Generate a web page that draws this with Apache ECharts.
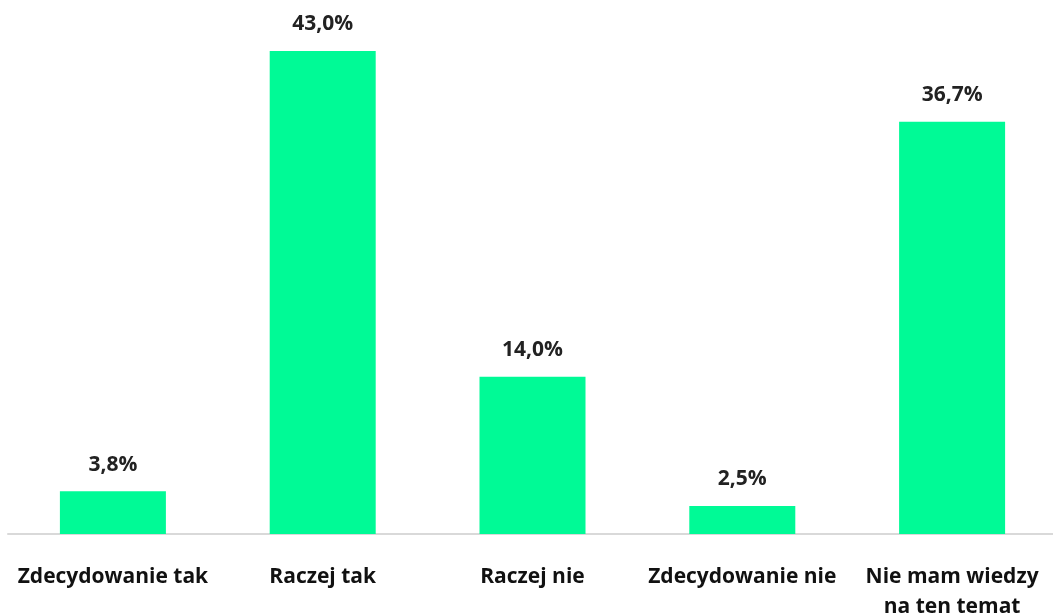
<!DOCTYPE html>
<html lang="pl">
<head>
    <meta charset="UTF-8">
    <title>Wykres</title>
    <script src="https://cdn.jsdelivr.net/npm/echarts@6/dist/echarts.min.js"></script>
    <style>
        html, body { margin: 0; padding: 0; background: #fff; }
        #chart1 { width: 1053px; height: 616px; }
    </style>
</head>
<body>
<div id="chart1"></div>
<script type="text/javascript">
    var categories = ['Zdecydowanie tak', 'Raczej tak', 'Raczej nie', 'Zdecydowanie nie', 'Nie mam wiedzy\nna ten temat'];
    var values = [3.8, 43.0, 14.0, 2.5, 36.7];

    var font = 'Open Sans';
    var myChart1 = echarts.init(document.getElementById('chart1'));
    myChart1.setOption({
        animation: false,
        grid: { left: 8, right: -4, top: 28.5, bottom: 82, outerBoundsMode: 'none', containLabel: false },
        xAxis: {
            type: 'category',
            data: categories,
            axisLine: { lineStyle: { color: '#d9d9d9', width: 2 } },
            axisTick: { show: false },
            axisLabel: {
                interval: 0,
                margin: 28,
                color: '#111',
                fontFamily: font,
                fontWeight: 'bold',
                fontSize: 21,
                lineHeight: 30
            }
        },
        yAxis: {
            type: 'value',
            min: 0,
            max: 45,
            show: false,
            splitLine: { show: false }
        },
        series: [{
            type: 'bar',
            data: values,
            barWidth: 106,
            itemStyle: { color: '#00fa96' },
            label: {
                show: true,
                position: 'top',
                distance: 16,
                color: '#222',
                fontFamily: font,
                fontWeight: 'bold',
                fontSize: 21,
                formatter: function (p) {
                    return p.value.toFixed(1).replace('.', ',') + '%';
                }
            }
        }]
    });
</script>
</body>
</html>
